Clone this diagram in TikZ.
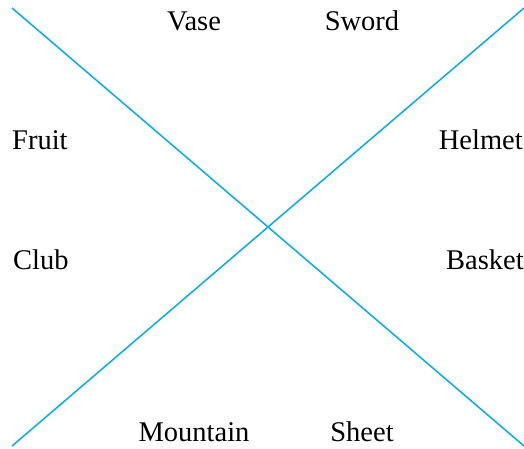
\documentclass[tikz,border=0pt]{standalone}
\usepackage{fontspec}
\setmainfont{Liberation Serif}
\definecolor{linecol}{RGB}{0,174,239}
\begin{document}
\begin{tikzpicture}[x=1pt,y=1pt,
  lbl/.style={font=\fontsize{28.5}{32}\selectfont, inner sep=0pt, anchor=base},
  xline/.style={draw=linecol, line width=1.5pt}]
\useasboundingbox (0,0) rectangle (524,448);
\coordinate (a1) at (12,440);
\coordinate (a2) at (524,2);
\coordinate (b1) at (12,2);
\coordinate (b2) at (524,440);
\draw[xline] (a1) -- (a2);
\draw[xline] (b1) -- (b2);
\node[lbl] (vase) at (194,417) {Vase};
\node[lbl] (sword) at (362,417) {Sword};
\node[lbl, anchor=base west] (fruit) at (12,299) {Fruit};
\node[lbl, anchor=base east] (helmet) at (523,299) {Helmet};
\node[lbl, anchor=base west] (club) at (13,179) {Club};
\node[lbl, anchor=base east] (basket) at (524,179) {Basket};
\node[lbl] (mountain) at (194,6.5) {Mountain};
\node[lbl] (sheet) at (362,6.5) {Sheet};
\end{tikzpicture}
\end{document}
